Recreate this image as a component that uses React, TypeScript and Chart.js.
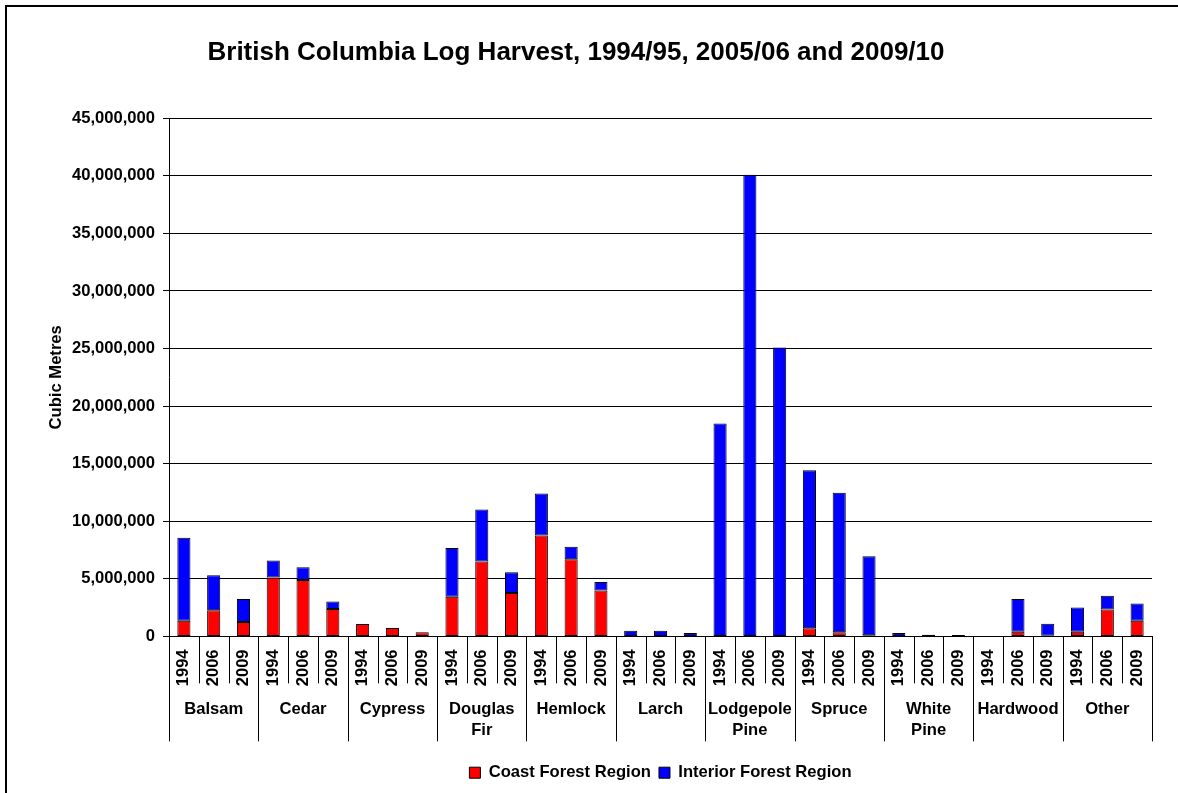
import React, { useEffect, useRef } from "react";
import { Chart, registerables } from "chart.js";

Chart.register(...registerables);

// Species groups (multi-line names) and the harvest years shown under each group
const species: string[][] = [
  ["Balsam"],
  ["Cedar"],
  ["Cypress"],
  ["Douglas", "Fir"],
  ["Hemlock"],
  ["Larch"],
  ["Lodgepole", "Pine"],
  ["Spruce"],
  ["White", "Pine"],
  ["Hardwood"],
  ["Other"],
];
const years = ["1994", "2006", "2009"];

// Cubic metres, in order species x years
const coastRegion = [
  1360000, 2280000, 1240000, // Balsam
  5120000, 4890000, 2370000, // Cedar
  1070000, 720000, 370000, // Cypress
  3440000, 6510000, 3760000, // Douglas Fir
  8770000, 6710000, 3990000, // Hemlock
  0, 0, 0, // Larch
  0, 0, 0, // Lodgepole Pine
  700000, 350000, 100000, // Spruce
  0, 0, 0, // White Pine
  0, 400000, 50000, // Hardwood
  400000, 2340000, 1360000, // Other
];
const interiorRegion = [
  7210000, 3040000, 2000000, // Balsam
  1480000, 1110000, 670000, // Cedar
  0, 0, 0, // Cypress
  4230000, 4510000, 1820000, // Douglas Fir
  3640000, 1070000, 730000, // Hemlock
  490000, 490000, 290000, // Larch
  18480000, 40090000, 25090000, // Lodgepole Pine
  13720000, 12120000, 6850000, // Spruce
  290000, 150000, 120000, // White Pine
  0, 2840000, 1050000, // Hardwood
  2120000, 1190000, 1500000, // Other
];
const yMax = 45000000;
const yStep = 5000000;

const seriesNames = ["Coast Forest Region", "Interior Forest Region"];
const chartTitle = "British Columbia Log Harvest, 1994/95, 2005/06 and 2009/10";
const yTitle = "Cubic Metres";

const FONT = '"Liberation Sans", Arial, Helvetica, sans-serif';
const FS = 16.6;

const groupPlugin = {
  id: "groupLabels",
  afterDraw(chart: any) {
    const { ctx, chartArea, scales } = chart;
    const x = scales.x;
    const n = coastRegion.length;
    const step = x.getPixelForValue(1) - x.getPixelForValue(0);
    const y0 = chartArea.bottom;
    ctx.save();
    ctx.strokeStyle = "#000";
    ctx.lineWidth = 1;
    for (let i = 0; i <= n; i++) {
      const px = Math.round(x.getPixelForValue(i) - step / 2) + 0.5;
      const isGroup = i % years.length === 0;
      ctx.beginPath();
      ctx.moveTo(px, y0);
      ctx.lineTo(px, y0 + (isGroup ? 105 : 47));
      ctx.stroke();
    }
    ctx.font = `bold ${FS}px ${FONT}`;
    ctx.textAlign = "center";
    ctx.textBaseline = "middle";
    ctx.fillStyle = "#000";
    species.forEach((lines, g) => {
      const a = x.getPixelForValue(g * years.length);
      const b = x.getPixelForValue(g * years.length + years.length - 1);
      const cx = (a + b) / 2;
      lines.forEach((t, k) => ctx.fillText(t, cx, y0 + 73 + k * 21));
    });
    ctx.restore();
  },
};

export default function App() {
  const ref = useRef<HTMLCanvasElement | null>(null);

  useEffect(() => {
    if (!ref.current) return;
    const labels: string[] = [];
    species.forEach(() => years.forEach((y) => labels.push(y)));
    const chart = new Chart(ref.current, {
      type: "bar",
      data: {
        labels,
        datasets: [
          {
            label: seriesNames[0],
            data: coastRegion,
            backgroundColor: "#FF0000",
            borderColor: "#000",
            borderWidth: 1,
            borderSkipped: false,
            barPercentage: 0.44,
            categoryPercentage: 1,
          },
          {
            label: seriesNames[1],
            data: interiorRegion,
            backgroundColor: "#0000FF",
            borderColor: "#000",
            borderWidth: 1,
            borderSkipped: false,
            barPercentage: 0.44,
            categoryPercentage: 1,
          },
        ],
      },
      options: {
        responsive: false,
        animation: false,
        devicePixelRatio: 1,
        layout: { padding: { left: 0, right: 26, top: 0, bottom: 2 } },
        plugins: {
          title: {
            display: true,
            text: chartTitle,
            color: "#000",
            font: { family: FONT, size: 26, weight: "bold" },
            padding: { top: 37, bottom: 50 },
          },
          legend: {
            position: "bottom",
            fullSize: false,
            labels: {
              boxWidth: 11,
              boxHeight: 11,
              padding: 8,
              color: "#000",
              font: { family: FONT, size: FS, weight: "bold" },
            },
          },
          tooltip: { enabled: false },
        },
        scales: {
          x: {
            stacked: true,
            grid: { display: false, drawTicks: false },
            border: { display: true, color: "#000", width: 1 },
            ticks: {
              autoSkip: false,
              minRotation: 90,
              maxRotation: 90,
              padding: 13,
              color: "#000",
              font: { family: FONT, size: FS, weight: "bold" },
            },
            afterFit: (s: any) => {
              s.height = 120;
            },
          },
          y: {
            stacked: true,
            min: 0,
            max: yMax,
            ticks: {
              stepSize: yStep,
              padding: 8,
              color: "#000",
              font: { family: FONT, size: FS, weight: "bold" },
              callback: (v: any) => Number(v).toLocaleString("en-US"),
            },
            grid: { color: "#000", lineWidth: 1, tickLength: 6 },
            border: { display: true, color: "#000", width: 1 },
            title: {
              display: true,
              text: yTitle,
              color: "#000",
              font: { family: FONT, size: FS, weight: "bold" },
              padding: { top: 46, bottom: 0 },
            },
            afterFit: (s: any) => {
              s.width = 169;
            },
          },
        },
      },
      plugins: [groupPlugin],
    });
    return () => chart.destroy();
  }, []);

  return (
    <div
      style={{
        position: "fixed",
        left: 0,
        top: 0,
        width: 1178,
        height: 793,
        background: "#fff",
        overflow: "hidden",
      }}
    >
      <div
        style={{
          position: "absolute",
          left: 5,
          top: 5,
          right: -10,
          bottom: -10,
          borderLeft: "2px solid #000",
          borderTop: "2px solid #000",
        }}
      />
      <canvas
        ref={ref}
        width={1178}
        height={793}
        style={{ position: "absolute", left: 0, top: 0, width: 1178, height: 793 }}
      />
    </div>
  );
}
